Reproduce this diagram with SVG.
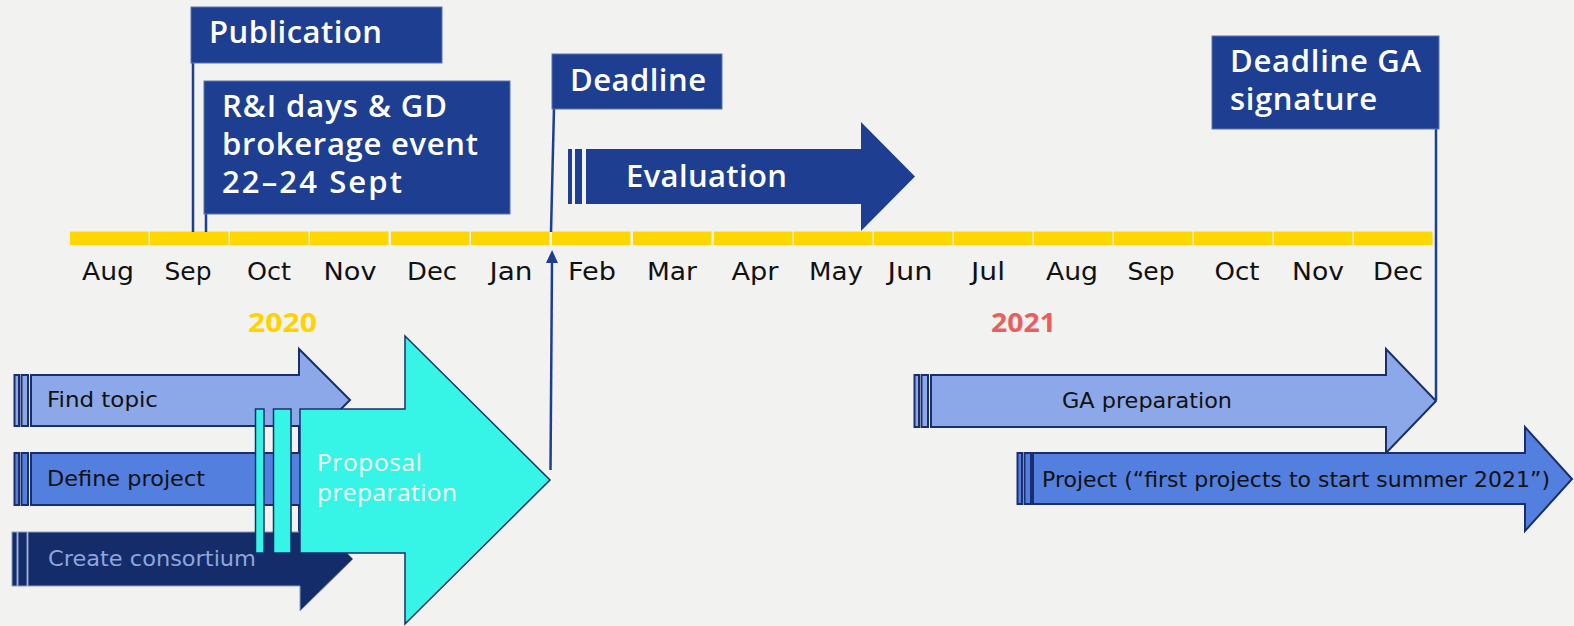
<svg xmlns="http://www.w3.org/2000/svg" width="1574" height="626" viewBox="0 0 1574 626">
<defs>
<style>
text{font-family:"Open Sans","DejaVu Sans",sans-serif}
.bg{fill:#F2F2F1}
.seg{fill:#FFD700}
.box{fill:#1E3F91;stroke:#5A74B0;stroke-width:1}
.tbox{font-size:31px;font-weight:600;fill:#fff}
.tmon{font-family:"DejaVu Sans","Open Sans",sans-serif;font-size:24px;fill:#111;text-anchor:middle}
.tyear{font-size:26px;font-weight:700}
.tarr{font-family:"DejaVu Sans","Open Sans",sans-serif;font-size:21px;fill:#111}
.light{fill:#8DA8E8;stroke:#1A2E6E;stroke-width:2}
.mid{fill:#537FDE;stroke:#1A2E6E;stroke-width:2}
.navy{fill:#142C6A;stroke:#8C9CC4;stroke-width:1}
.cyan{fill:#36F4E6;stroke:#1A2E6E;stroke-width:1.5}
.eval{fill:#1E3F91}
.conn{stroke:#1E3F91;fill:none;stroke-width:2.5}
</style>
<marker id="up" viewBox="0 0 13 12" refX="1" refY="6" markerWidth="13" markerHeight="12" markerUnits="userSpaceOnUse" orient="auto">
<path d="M0,0 L13,6 L0,12 Z" fill="#1E3F91"/>
</marker>
</defs>
<rect class="bg" x="0" y="0" width="1574" height="626"/>

<g id="timeline">
<rect class="seg" x="70" y="231.5" width="78.5" height="13.5"/>
<rect class="seg" x="150" y="231.5" width="78.5" height="13.5"/>
<rect class="seg" x="230" y="231.5" width="78.5" height="13.5"/>
<rect class="seg" x="310" y="231.5" width="78.5" height="13.5"/>
<rect class="seg" x="391" y="231.5" width="78.5" height="13.5"/>
<rect class="seg" x="471" y="231.5" width="78.5" height="13.5"/>
<rect class="seg" x="552" y="231.5" width="78.5" height="13.5"/>
<rect class="seg" x="633" y="231.5" width="78.5" height="13.5"/>
<rect class="seg" x="714" y="231.5" width="78.5" height="13.5"/>
<rect class="seg" x="794" y="231.5" width="78.5" height="13.5"/>
<rect class="seg" x="874" y="231.5" width="78.5" height="13.5"/>
<rect class="seg" x="954" y="231.5" width="78.5" height="13.5"/>
<rect class="seg" x="1034" y="231.5" width="78.5" height="13.5"/>
<rect class="seg" x="1114" y="231.5" width="78.5" height="13.5"/>
<rect class="seg" x="1194" y="231.5" width="78.5" height="13.5"/>
<rect class="seg" x="1274" y="231.5" width="78.5" height="13.5"/>
<rect class="seg" x="1354" y="231.5" width="78.5" height="13.5"/>
</g>

<g id="months">
<text class="tmon" x="108" y="280" textLength="52" lengthAdjust="spacingAndGlyphs">Aug</text>
<text class="tmon" x="188" y="280" textLength="47" lengthAdjust="spacingAndGlyphs">Sep</text>
<text class="tmon" x="269" y="280" textLength="44" lengthAdjust="spacingAndGlyphs">Oct</text>
<text class="tmon" x="350" y="280" textLength="53" lengthAdjust="spacingAndGlyphs">Nov</text>
<text class="tmon" x="432" y="280" textLength="50" lengthAdjust="spacingAndGlyphs">Dec</text>
<text class="tmon" x="511" y="280" textLength="43" lengthAdjust="spacingAndGlyphs">Jan</text>
<text class="tmon" x="592" y="280" textLength="48" lengthAdjust="spacingAndGlyphs">Feb</text>
<text class="tmon" x="672" y="280" textLength="50" lengthAdjust="spacingAndGlyphs">Mar</text>
<text class="tmon" x="755" y="280" textLength="47" lengthAdjust="spacingAndGlyphs">Apr</text>
<text class="tmon" x="836" y="280" textLength="54" lengthAdjust="spacingAndGlyphs">May</text>
<text class="tmon" x="910" y="280" textLength="45" lengthAdjust="spacingAndGlyphs">Jun</text>
<text class="tmon" x="988" y="280" textLength="34" lengthAdjust="spacingAndGlyphs">Jul</text>
<text class="tmon" x="1072" y="280" textLength="52" lengthAdjust="spacingAndGlyphs">Aug</text>
<text class="tmon" x="1151" y="280" textLength="47" lengthAdjust="spacingAndGlyphs">Sep</text>
<text class="tmon" x="1237" y="280" textLength="45" lengthAdjust="spacingAndGlyphs">Oct</text>
<text class="tmon" x="1318" y="280" textLength="52" lengthAdjust="spacingAndGlyphs">Nov</text>
<text class="tmon" x="1398" y="280" textLength="50" lengthAdjust="spacingAndGlyphs">Dec</text>
</g>

<g id="years">
<text class="tyear" x="248" y="332" fill="#FFD200" textLength="69" lengthAdjust="spacingAndGlyphs">2020</text>
<text class="tyear" x="991" y="332" fill="#E8605E" textLength="65" lengthAdjust="spacingAndGlyphs">2021</text>
</g>

<g id="connectors">
<line class="conn" x1="193" y1="62" x2="193" y2="232" stroke-width="3"/>
<line class="conn" x1="206" y1="213" x2="206" y2="232"/>
<line class="conn" x1="554" y1="108" x2="551" y2="232"/>
<line class="conn" x1="1436" y1="128" x2="1436" y2="400"/>
<line class="conn" x1="550.5" y1="470" x2="552" y2="262" marker-end="url(#up)"/>
</g>

<g id="publication">
<rect class="box" x="191" y="7" width="251" height="56"/>
<text class="tbox" x="209" y="43" textLength="173">Publication</text>
</g>

<g id="ri-days">
<rect class="box" x="204" y="81" width="306" height="133"/>
<text class="tbox" x="222" y="117" textLength="225">R&amp;I days &amp; GD</text>
<text class="tbox" x="222" y="155" textLength="256">brokerage event</text>
<text class="tbox" x="222" y="193" textLength="180">22–24 Sept</text>
</g>

<g id="deadline">
<rect class="box" x="552" y="54" width="170" height="55"/>
<text class="tbox" x="570" y="91" textLength="136">Deadline</text>
</g>

<g id="deadline-ga">
<rect class="box" x="1212" y="36" width="227" height="93"/>
<text class="tbox" x="1230" y="72" textLength="191">Deadline GA</text>
<text class="tbox" x="1230" y="110" textLength="147">signature</text>
</g>

<g id="evaluation">
<rect class="eval" x="568" y="149" width="4" height="55"/>
<rect class="eval" x="575" y="149" width="7" height="55"/>
<path class="eval" d="M586,149 H861 V122 L915,176.5 L861,231 V204 H586 Z"/>
<text class="tbox" x="626" y="187" textLength="161">Evaluation</text>
</g>

<g id="find-topic">
<rect class="light" x="14.5" y="375" width="4.5" height="51"/>
<rect class="light" x="21.5" y="375" width="6.5" height="51"/>
<path class="light" d="M31,375 H299 V349 L350,400 L299,451 V426 H31 Z"/>
<text class="tarr" x="47" y="407" textLength="111" lengthAdjust="spacingAndGlyphs">Find topic</text>
</g>

<g id="define-project">
<rect class="mid" x="14.5" y="453" width="4.5" height="52"/>
<rect class="mid" x="21.5" y="453" width="6.5" height="52"/>
<path class="mid" d="M31,453 H299 V427 L350,479 L299,531 V505 H31 Z"/>
<text class="tarr" x="47" y="486" textLength="158" lengthAdjust="spacingAndGlyphs">Define project</text>
</g>

<g id="create-consortium">
<rect class="navy" x="12" y="532" width="5" height="54"/>
<rect class="navy" x="18" y="532" width="9" height="54"/>
<path class="navy" d="M28,532 H300 V507 L353,559 L300,611 V586 H28 Z"/>
<text class="tarr" x="48" y="566" style="fill:#8FA5DD" textLength="208" lengthAdjust="spacingAndGlyphs">Create consortium</text>
</g>

<g id="proposal-preparation">
<rect class="cyan" x="255.5" y="409" width="8.5" height="144"/>
<rect class="cyan" x="273.5" y="409" width="17.5" height="144"/>
<path class="cyan" d="M300,409 H405 V336 L550,480 L405,624 V553 H300 Z"/>
<text x="317" y="471" font-size="24.5" fill="#fff" textLength="105">Proposal</text>
<text x="317" y="501" font-size="24.5" fill="#fff" textLength="140">preparation</text>
</g>

<g id="ga-preparation">
<rect class="light" x="914.5" y="375" width="4.5" height="52"/>
<rect class="light" x="921.5" y="375" width="6.5" height="52"/>
<path class="light" d="M931,375 H1386 V349 L1436,401 L1386,453 V427 H931 Z"/>
<text class="tarr" x="1062" y="408" textLength="170" lengthAdjust="spacingAndGlyphs">GA preparation</text>
</g>

<g id="project">
<rect class="mid" x="1017.5" y="453" width="4.5" height="51"/>
<rect class="mid" x="1024.5" y="453" width="6.5" height="51"/>
<path class="mid" d="M1033,453 H1525 V427 L1572,479 L1525,531 V504 H1033 Z"/>
<text class="tarr" x="1042" y="487" textLength="508" lengthAdjust="spacingAndGlyphs">Project (“first projects to start summer 2021”)</text>
</g>
</svg>
